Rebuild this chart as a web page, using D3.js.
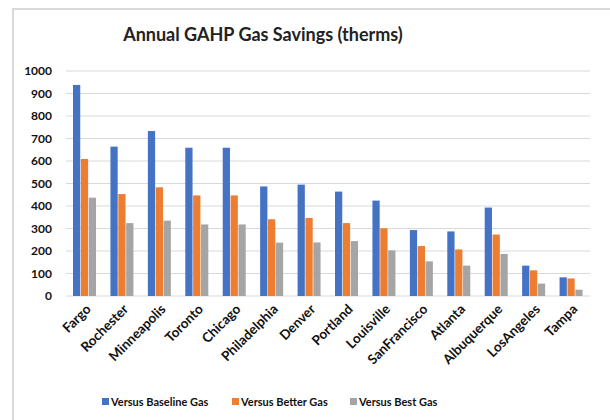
<!DOCTYPE html>
<html>
<head>
<meta charset="utf-8">
<script src="https://cdn.jsdelivr.net/npm/d3@7"></script>
<style>
  body { margin: 0; background: #fff; }
  text { font-family: Lato, "Open Sans", sans-serif; }
</style>
</head>
<body>
<svg id="chart" width="610" height="420"></svg>
<script>
const cities = ["Fargo", "Rochester", "Minneapolis", "Toronto", "Chicago", "Philadelphia",
  "Denver", "Portland", "Louisville", "SanFrancisco", "Atlanta", "Albuquerque", "LosAngeles", "Tampa"];
const seriesNames = ["Versus Baseline Gas", "Versus Better Gas", "Versus Best Gas"];
const baselineGas = [938, 664, 733, 659, 659, 487, 495, 464, 424, 293, 287, 393, 135, 83];
const betterGas = [609, 453, 483, 447, 447, 341, 347, 324, 301, 222, 207, 273, 114, 78];
const bestGas = [437, 324, 335, 318, 318, 237, 238, 244, 203, 154, 135, 187, 55, 28];
const yTicks = [0, 100, 200, 300, 400, 500, 600, 700, 800, 900, 1000];
const colors = ["#4472C4", "#ED7D31", "#A5A5A5"];

let svg = d3.select("#chart");

// chart frame (only the top and left edges are in view)
svg.append("path")
  .attr("d", "M13,420 V9 H610")
  .attr("fill", "none")
  .attr("stroke", "#d9d9d9")
  .attr("stroke-width", 2);

svg.append("text")
  .attr("x", 263)
  .attr("y", 41)
  .attr("text-anchor", "middle")
  .attr("font-size", 18)
  .attr("font-weight", "bold")
  .attr("fill", "#222")
  .text("Annual GAHP Gas Savings (therms)");

let x = d3.scaleBand().domain(cities).range([66, 590]);
let xInner = d3.scaleBand().domain(seriesNames).range([7, 30]).paddingInner(0.08);
let y = d3.scaleLinear().domain([0, 1000]).range([296, 71]);

// gridlines
svg.append("g")
  .selectAll("line")
  .data(yTicks)
  .enter()
  .append("line")
  .attr("x1", 66)
  .attr("x2", 590)
  .attr("y1", (d) => y(d))
  .attr("y2", (d) => y(d))
  .attr("stroke", "#d9d9d9")
  .attr("stroke-width", 1.2);

// y labels
let yAxis = svg.append("g")
  .attr("transform", "translate(58,0)")
  .call(d3.axisLeft(y).tickValues(yTicks).tickFormat(d3.format("d")).tickSize(0).tickPadding(6));
yAxis.select(".domain").remove();
yAxis.selectAll("text")
  .attr("font-family", "Lato, sans-serif")
  .attr("font-size", 12)
  .attr("font-weight", "bold")
  .attr("fill", "#111");

let rows = cities.map((c, i) => ({
  city: c,
  values: [baselineGas[i], betterGas[i], bestGas[i]]
}));

let groups = svg.append("g")
  .selectAll("g")
  .data(rows)
  .enter()
  .append("g")
  .attr("transform", (d) => "translate(" + x(d.city) + ",0)");

groups.selectAll("rect")
  .data((d) => d.values.map((v, k) => ({ name: seriesNames[k], value: v, k: k })))
  .enter()
  .append("rect")
  .attr("x", (d) => xInner(d.name))
  .attr("width", xInner.bandwidth())
  .attr("y", (d) => y(d.value))
  .attr("height", (d) => y(0) - y(d.value))
  .attr("fill", (d) => colors[d.k]);

// x labels
svg.append("g")
  .selectAll("text")
  .data(cities)
  .enter()
  .append("text")
  .attr("transform", (d) => "translate(" + (x(d) + x.bandwidth() / 2 + 7) + ",310) rotate(-45)")
  .attr("text-anchor", "end")
  .attr("font-size", 13.5)
  .attr("font-weight", "bold")
  .attr("fill", "#111")
  .text((d) => d);

// legend
let legendX = [102, 232, 350];
let legend = svg.append("g")
  .selectAll("g")
  .data(seriesNames)
  .enter()
  .append("g")
  .attr("transform", (d, i) => "translate(" + legendX[i] + ",398)");
legend.append("rect")
  .attr("width", 7)
  .attr("height", 7)
  .attr("fill", (d, i) => colors[i]);
legend.append("text")
  .attr("x", 9)
  .attr("y", 7.5)
  .attr("font-size", 11)
  .attr("font-weight", "bold")
  .attr("fill", "#111")
  .text((d) => d);
</script>
</body>
</html>
